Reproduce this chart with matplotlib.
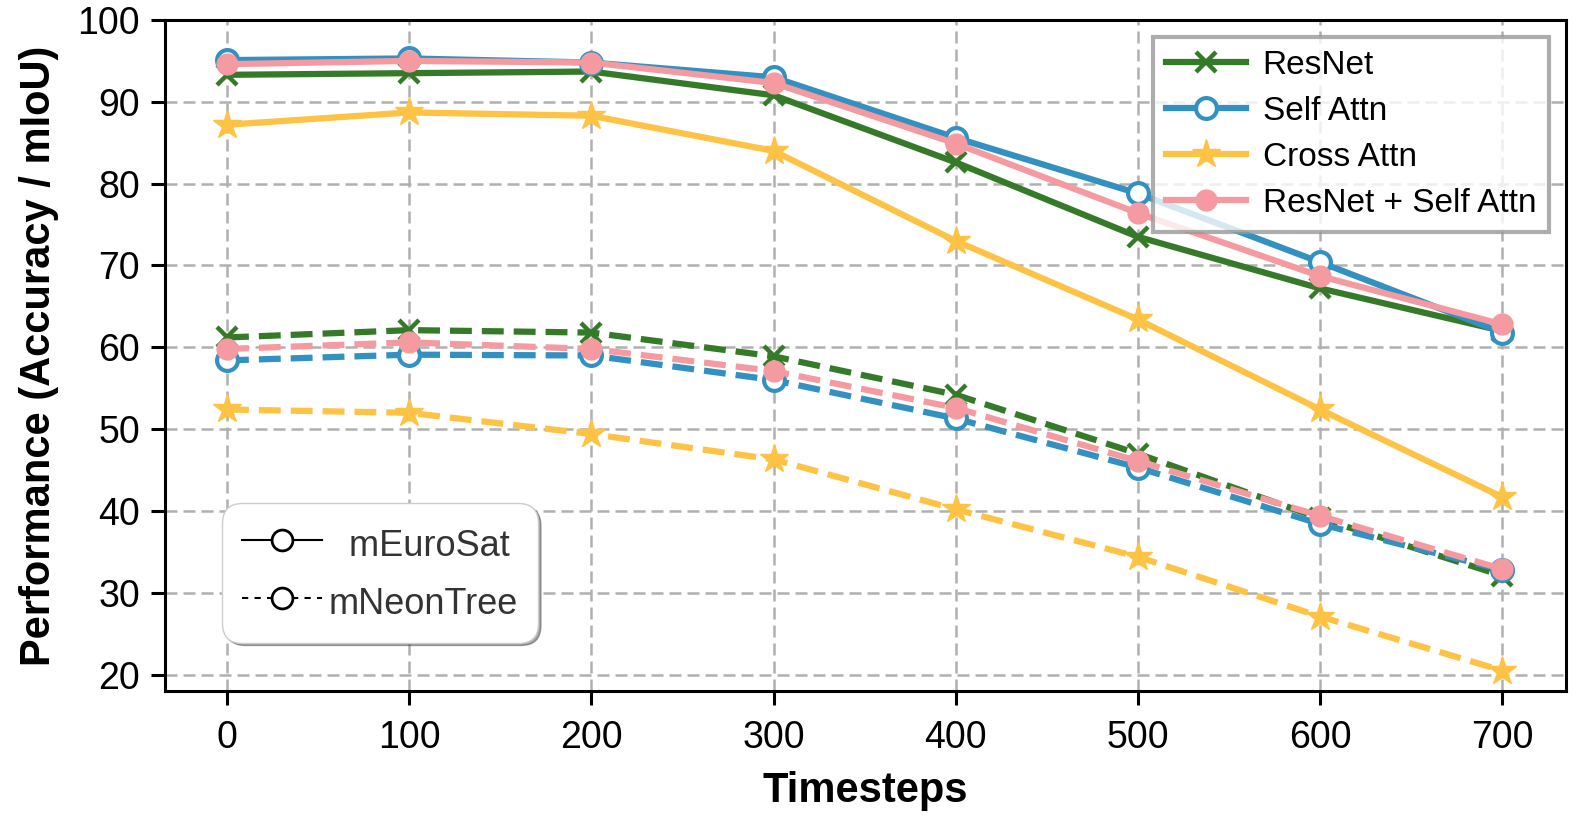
import matplotlib
matplotlib.use('Agg')
import matplotlib.pyplot as plt
from matplotlib.lines import Line2D

plt.rcParams['font.family'] = ['Liberation Sans', 'DejaVu Sans']

timesteps = [0, 100, 200, 300, 400, 500, 600, 700]

# mEuroSat (solid)
euro_resnet = [93.3, 93.5, 93.7, 90.8, 82.6, 73.5, 67.2, 62.0]
euro_self = [95.1, 95.3, 94.8, 93.0, 85.6, 78.8, 70.4, 61.8]
euro_cross = [87.2, 88.7, 88.3, 84.0, 73.0, 63.4, 52.4, 41.7]
euro_res_self = [94.6, 95.0, 94.8, 92.3, 84.9, 76.4, 68.7, 62.8]

# mNeonTree (dashed)
neon_resnet = [61.2, 62.1, 61.8, 58.9, 54.2, 47.0, 39.1, 32.1]
neon_self = [58.4, 59.1, 59.0, 56.0, 51.3, 45.3, 38.4, 32.8]
neon_cross = [52.4, 52.0, 49.4, 46.3, 40.2, 34.4, 27.1, 20.5]
neon_res_self = [59.8, 60.6, 59.8, 57.1, 52.6, 46.1, 39.4, 32.9]

names = ['ResNet', 'Self Attn', 'Cross Attn', 'ResNet + Self Attn']
colors = ['#347a29', '#3391c1', '#fec245', '#f59aa0']
euro = [euro_resnet, euro_self, euro_cross, euro_res_self]
neon = [neon_resnet, neon_self, neon_cross, neon_res_self]

fig = plt.figure(figsize=(15.78, 8.19), dpi=100)
ax = fig.add_axes([0.1046, 0.1563, 0.8878, 0.8193])


def marker_style(i, c):
    if i == 1:
        return dict(marker='o', markersize=15, markerfacecolor='white',
                    markeredgecolor=c, markeredgewidth=3)
    if i == 0:
        return dict(marker='x', markersize=14, markeredgewidth=3.2, markeredgecolor=c)
    if i == 2:
        return dict(marker='*', markersize=21, markeredgecolor=c, markerfacecolor=c)
    return dict(marker='o', markersize=15, markeredgecolor=c, markerfacecolor=c)


handles = []
for i in range(4):
    c = colors[i]
    h, = ax.plot(timesteps, euro[i], color=c, linewidth=4.5, label=names[i],
                 **marker_style(i, c), zorder=3)
    ax.plot(timesteps, neon[i], color=c, linewidth=4.5, linestyle=(0, (3.5, 1.6)),
            **marker_style(i, c), zorder=3)
    handles.append(h)

ax.set_xlim(-34, 735)
ax.set_ylim(18, 100)
ax.set_xticks(timesteps)
ax.set_yticks([20, 30, 40, 50, 60, 70, 80, 90, 100])
ax.tick_params(labelsize=27, width=2.2, length=10, pad=8)
ax.tick_params(axis='x', pad=11)
ax.grid(True, linestyle=(0, (4.8, 2.4)), color='#b0b0b0', linewidth=1.8, zorder=0)
ax.set_axisbelow(True)
for s in ax.spines.values():
    s.set_linewidth(2.2)
    s.set_color('black')

ax.set_xlabel('Timesteps', fontsize=30, fontweight='bold', labelpad=11)
ax.set_ylabel('Performance (Accuracy / mIoU)', fontsize=30, fontweight='bold', labelpad=13)

leg1 = ax.legend(handles=handles, loc='upper right', fontsize=24,
                 fancybox=False, framealpha=0.8, edgecolor='#999999',
                 handlelength=2.4, handletextpad=0.5, borderaxespad=0.5,
                 labelspacing=0.45, borderpad=0.4)
leg1.get_frame().set_linewidth(3)
ax.add_artist(leg1)

style_handles = [
    Line2D([0], [0], color='black', linewidth=1.5, marker='o', markersize=15,
           markerfacecolor='white', markeredgecolor='black', markeredgewidth=2),
    Line2D([0], [0], color='black', linewidth=1.5, linestyle=(0, (3, 3)), marker='o',
           markersize=15, markerfacecolor='white', markeredgecolor='black',
           markeredgewidth=2),
]
leg2 = ax.legend(handles=style_handles, labels=['  mEuroSat', 'mNeonTree'],
                 loc='lower left', bbox_to_anchor=(0.041, 0.072), borderaxespad=0,
                 fontsize=26, fancybox=True, shadow=True, framealpha=1,
                 edgecolor='#cccccc', borderpad=0.55, labelspacing=0.45,
                 handleheight=1.4, handlelength=2.2, handletextpad=0.2)
leg2.get_frame().set_boxstyle('round', pad=0, rounding_size=0.55)
for t in leg2.get_texts():
    t.set_color('#333333')

fig.savefig('out.png', dpi=100)
